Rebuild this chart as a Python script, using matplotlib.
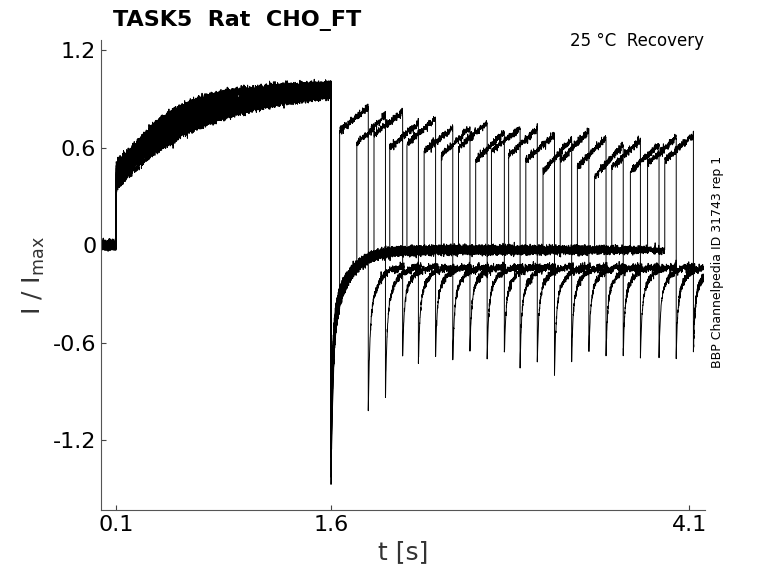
import numpy as np
import matplotlib
matplotlib.use("Agg")
import matplotlib.pyplot as plt

# sweep parameters
test_on = [1.66, 1.78, 1.90, 2.01, 2.13, 2.25, 2.37, 2.49, 2.61, 2.72, 2.84, 2.96, 3.08, 3.20, 3.32, 3.44, 3.56, 3.69, 3.81, 3.93]
upper_start = [0.70, 0.62, 0.68, 0.60, 0.62, 0.58, 0.55, 0.60, 0.52, 0.58, 0.55, 0.52, 0.45, 0.52, 0.48, 0.42, 0.48, 0.45, 0.50, 0.52]
upper_end = [0.85, 0.80, 0.82, 0.75, 0.78, 0.72, 0.72, 0.75, 0.70, 0.72, 0.72, 0.68, 0.65, 0.70, 0.66, 0.62, 0.65, 0.62, 0.66, 0.68]
neg_peak = [-1.02, -0.94, -0.68, -0.74, -0.68, -0.72, -0.65, -0.70, -0.68, -0.74, -0.72, -0.80, -0.70, -0.68, -0.68, -0.68, -0.70, -0.68, -0.68, -0.66]
act_start = [0.40, 0.35, 0.45, 0.38, 0.50, 0.42, 0.36, 0.48, 0.40, 0.44, 0.37, 0.46, 0.41, 0.39, 0.47, 0.43, 0.35, 0.45, 0.38, 0.42]
act_end = [0.97, 0.95, 0.93, 0.99, 0.96, 0.92, 0.98, 0.94, 0.97, 0.95, 0.93, 0.99, 0.96, 0.94, 0.97, 0.95, 0.92, 0.98, 0.96, 0.94]
step_peak = [-1.45, -1.30, -1.20, -1.10, -1.35, -1.00, -1.25, -1.15, -1.05, -1.40, -1.20, -1.10, -1.30, -1.00, -1.15, -1.25, -1.05, -1.20, -1.10, -1.30]

fig = plt.figure(figsize=(7.78, 5.83), dpi=100)
ax = fig.add_axes([0.13, 0.125, 0.776, 0.806])
rng = np.random.default_rng(3)
dur = 0.2
taus = np.linspace(0.3, 0.8, len(test_on))
for i, ton in enumerate(test_on):
    t1 = np.linspace(0, 0.1, 100)
    y1 = np.zeros_like(t1)
    t2 = np.linspace(0.1, 1.6, 1500)
    a0 = act_start[i]
    tau = taus[(i * 7) % len(taus)]
    y2 = a0 + (act_end[i] - a0) * (1 - np.exp(-(t2 - 0.1) / tau)) / (1 - np.exp(-1.5 / tau))
    t3 = np.linspace(1.6, ton, max(int((ton - 1.6) * 1000), 2))
    y3 = -0.03 + (step_peak[i] + 0.03) * (0.6 * np.exp(-(t3 - 1.6) / 0.015) + 0.4 * np.exp(-(t3 - 1.6) / 0.12))
    t4 = np.linspace(ton, ton + dur, 200)
    y4 = upper_start[i] + (upper_end[i] - upper_start[i]) * (t4 - ton) / dur
    tend = min(ton + dur + 0.25, 4.2)
    t5 = np.linspace(ton + dur, tend, 300)
    y5 = -0.13 + (neg_peak[i] + 0.13) * (0.6 * np.exp(-(t5 - ton - dur) / 0.01) + 0.4 * np.exp(-(t5 - ton - dur) / 0.06))
    t = np.concatenate([t1, t2, t3, t4, t5])
    y = np.concatenate([y1, y2, y3, y4, y5])
    y = y + rng.normal(0, 0.012, y.size)
    ax.plot(t, y, color="black", lw=0.7)

ax.set_xlim(-0.005, 4.21)
ax.set_ylim(-1.63, 1.26)
ax.set_xticks([0.1, 1.6, 4.1])
ax.set_xticklabels(["0.1", "1.6", "4.1"])
ax.set_yticks([-1.2, -0.6, 0, 0.6, 1.2])
ax.set_yticklabels(["-1.2", "-0.6", "0", "0.6", "1.2"])
ax.tick_params(labelsize=16, direction="in", color="#444")
for s in ["top", "right"]:
    ax.spines[s].set_visible(False)
for s in ["left", "bottom"]:
    ax.spines[s].set_color("#555")
ax.set_xlabel("t [s]", fontsize=18, color="#333")
ax.set_ylabel("I / I$_{\\mathrm{max}}$", fontsize=18, color="#333")
fig.text(0.145, 0.965, "TASK5  Rat  CHO_FT", fontsize=16, fontweight="bold", va="center")
fig.text(0.905, 0.93, "25 °C  Recovery", fontsize=12, ha="right", va="center")
fig.text(0.922, 0.55, "BBP Channelpedia ID 31743 rep 1", fontsize=9, rotation=90, ha="center", va="center")
fig.savefig("out.png", dpi=100)
